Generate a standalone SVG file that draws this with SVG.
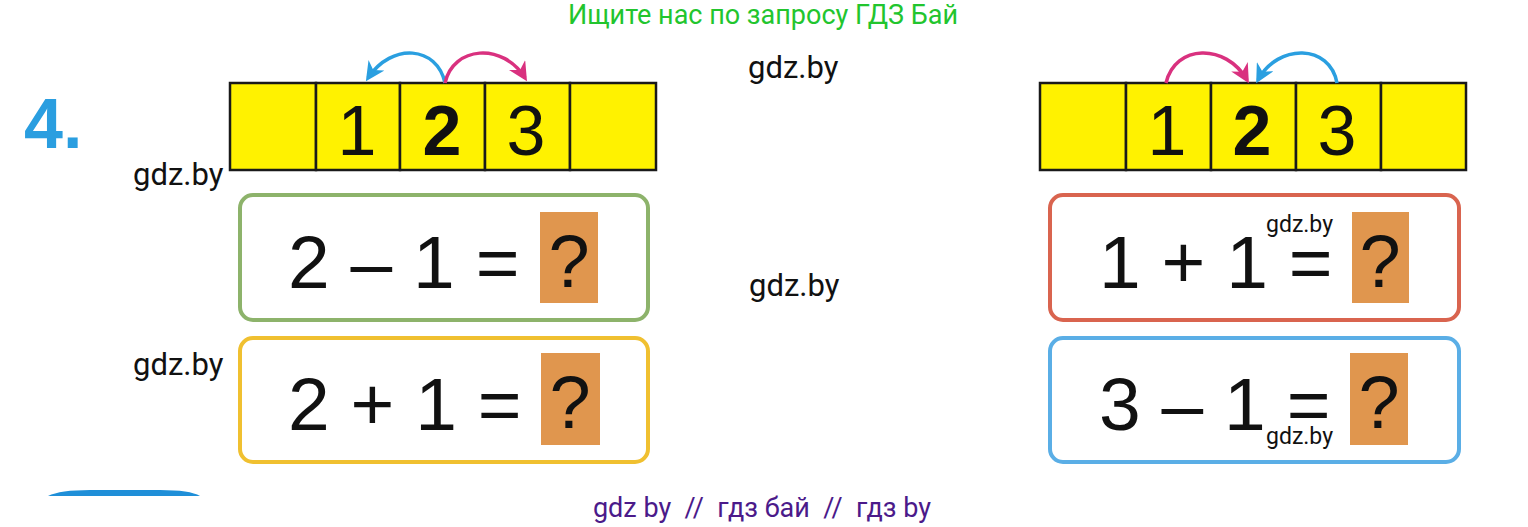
<svg xmlns="http://www.w3.org/2000/svg" width="1528" height="527" viewBox="0 0 1528 527">
<style>
.cell{fill:#fff200;stroke:#1a1a1a;stroke-width:2.5}
.dig{font-family:"Liberation Sans",Arial,sans-serif;font-size:70px;fill:#111;text-anchor:middle}
.b{font-weight:bold}
.eq{font-family:"Liberation Sans",Arial,sans-serif;font-size:75px;fill:#111}
.q{fill:#e0964e}
.qt{font-family:"Liberation Sans",Arial,sans-serif;font-size:74px;fill:#111;text-anchor:middle}
.box{fill:#fff;stroke-width:4}
.wm{font-family:Roboto,"Liberation Sans",sans-serif;font-size:31px;fill:#111}
.wms{font-family:Roboto,"Liberation Sans",sans-serif;font-size:23px;fill:#111}
.arc{fill:none;stroke-width:3.5}
</style>
<defs>
<marker id="hb" viewBox="0 0 10 10" refX="8" refY="5" markerWidth="19" markerHeight="19" orient="auto" markerUnits="userSpaceOnUse"><path d="M0,0 L10,5 L0,10 L3,5 Z" fill="#2a9fe0"/></marker>
<marker id="hp" viewBox="0 0 10 10" refX="8" refY="5" markerWidth="19" markerHeight="19" orient="auto" markerUnits="userSpaceOnUse"><path d="M0,0 L10,5 L0,10 L3,5 Z" fill="#d9317f"/></marker>
</defs>
<rect width="1528" height="527" fill="#fff"/>
<text x="763" y="24" font-family="Roboto,'Liberation Sans',sans-serif" font-size="27" fill="#22c52e" text-anchor="middle">Ищите нас по запросу ГДЗ Бай</text>
<text x="24" y="148" font-family="'Liberation Sans',Arial,sans-serif" font-size="70" font-weight="bold" fill="#2a9ee0">4.</text>

<g id="strip-left">
<rect class="cell" x="230" y="83" width="86" height="87"/>
<rect class="cell" x="316" y="83" width="84" height="87"/>
<rect class="cell" x="400" y="83" width="85" height="87"/>
<rect class="cell" x="485" y="83" width="85" height="87"/>
<rect class="cell" x="570" y="83" width="86" height="87"/>
<text class="dig" x="357" y="155">1</text>
<text class="dig b" x="442" y="155">2</text>
<text class="dig" x="526" y="155">3</text>
</g>
<g id="strip-right">
<rect class="cell" x="1040" y="83" width="86" height="87"/>
<rect class="cell" x="1126" y="83" width="85" height="87"/>
<rect class="cell" x="1211" y="83" width="85" height="87"/>
<rect class="cell" x="1296" y="83" width="85" height="87"/>
<rect class="cell" x="1381" y="83" width="85" height="87"/>
<text class="dig" x="1167" y="155">1</text>
<text class="dig b" x="1252" y="155">2</text>
<text class="dig" x="1337" y="155">3</text>
</g>
<g id="connectors">
<path class="arc" stroke="#2a9fe0" d="M445,83 C437,46 392,42 368,78" marker-end="url(#hb)"/>
<path class="arc" stroke="#d9317f" d="M445,83 C453,46 503,42 525,78" marker-end="url(#hp)"/>
<path class="arc" stroke="#d9317f" d="M1166,83 C1175,44 1226,43 1247,80" marker-end="url(#hp)"/>
<path class="arc" stroke="#2a9fe0" d="M1337,83 C1330,44 1278,43 1258,80" marker-end="url(#hb)"/>
</g>

<g id="eq1">
<rect class="box" x="240" y="195" width="408" height="125" rx="13" stroke="#8db36b"/>
<text class="eq" x="288" y="288">2 – 1 =</text>
<rect class="q" x="540" y="212" width="58" height="91"/>
<text class="qt" x="569" y="287">?</text>
</g>
<g id="eq2">
<rect class="box" x="240" y="338" width="408" height="124" rx="13" stroke="#f0c030"/>
<text class="eq" x="288" y="430">2 + 1 =</text>
<rect class="q" x="541" y="353" width="59" height="92"/>
<text class="qt" x="570" y="428">?</text>
</g>
<g id="eq3">
<rect class="box" x="1050" y="195" width="409" height="125" rx="13" stroke="#d9644f"/>
<text class="eq" x="1099" y="288">1 + 1 =</text>
<rect class="q" x="1352" y="212" width="57" height="91"/>
<text class="qt" x="1380" y="287">?</text>
</g>
<g id="eq4">
<rect class="box" x="1050" y="338" width="409" height="124" rx="13" stroke="#5aaee6"/>
<text class="eq" x="1099" y="430">3 – 1 =</text>
<rect class="q" x="1350" y="353" width="58" height="92"/>
<text class="qt" x="1379" y="428">?</text>
</g>

<path d="M48,496 Q60,490 90,490 L160,490 Q190,490 200,496 Z" fill="#1f8fd8"/>

<text class="wm" x="748" y="78">gdz.by</text>
<text class="wm" x="133" y="185">gdz.by</text>
<text class="wm" x="749" y="296">gdz.by</text>
<text class="wm" x="133" y="375">gdz.by</text>
<text class="wms" x="1266" y="232">gdz.by</text>
<text class="wms" x="1266" y="444">gdz.by</text>
<text x="762" y="517" font-family="Roboto,'Liberation Sans',sans-serif" font-size="27" fill="#4b1a8a" text-anchor="middle" style="white-space:pre">gdz by  //  гдз бай  //  гдз by</text>
</svg>
